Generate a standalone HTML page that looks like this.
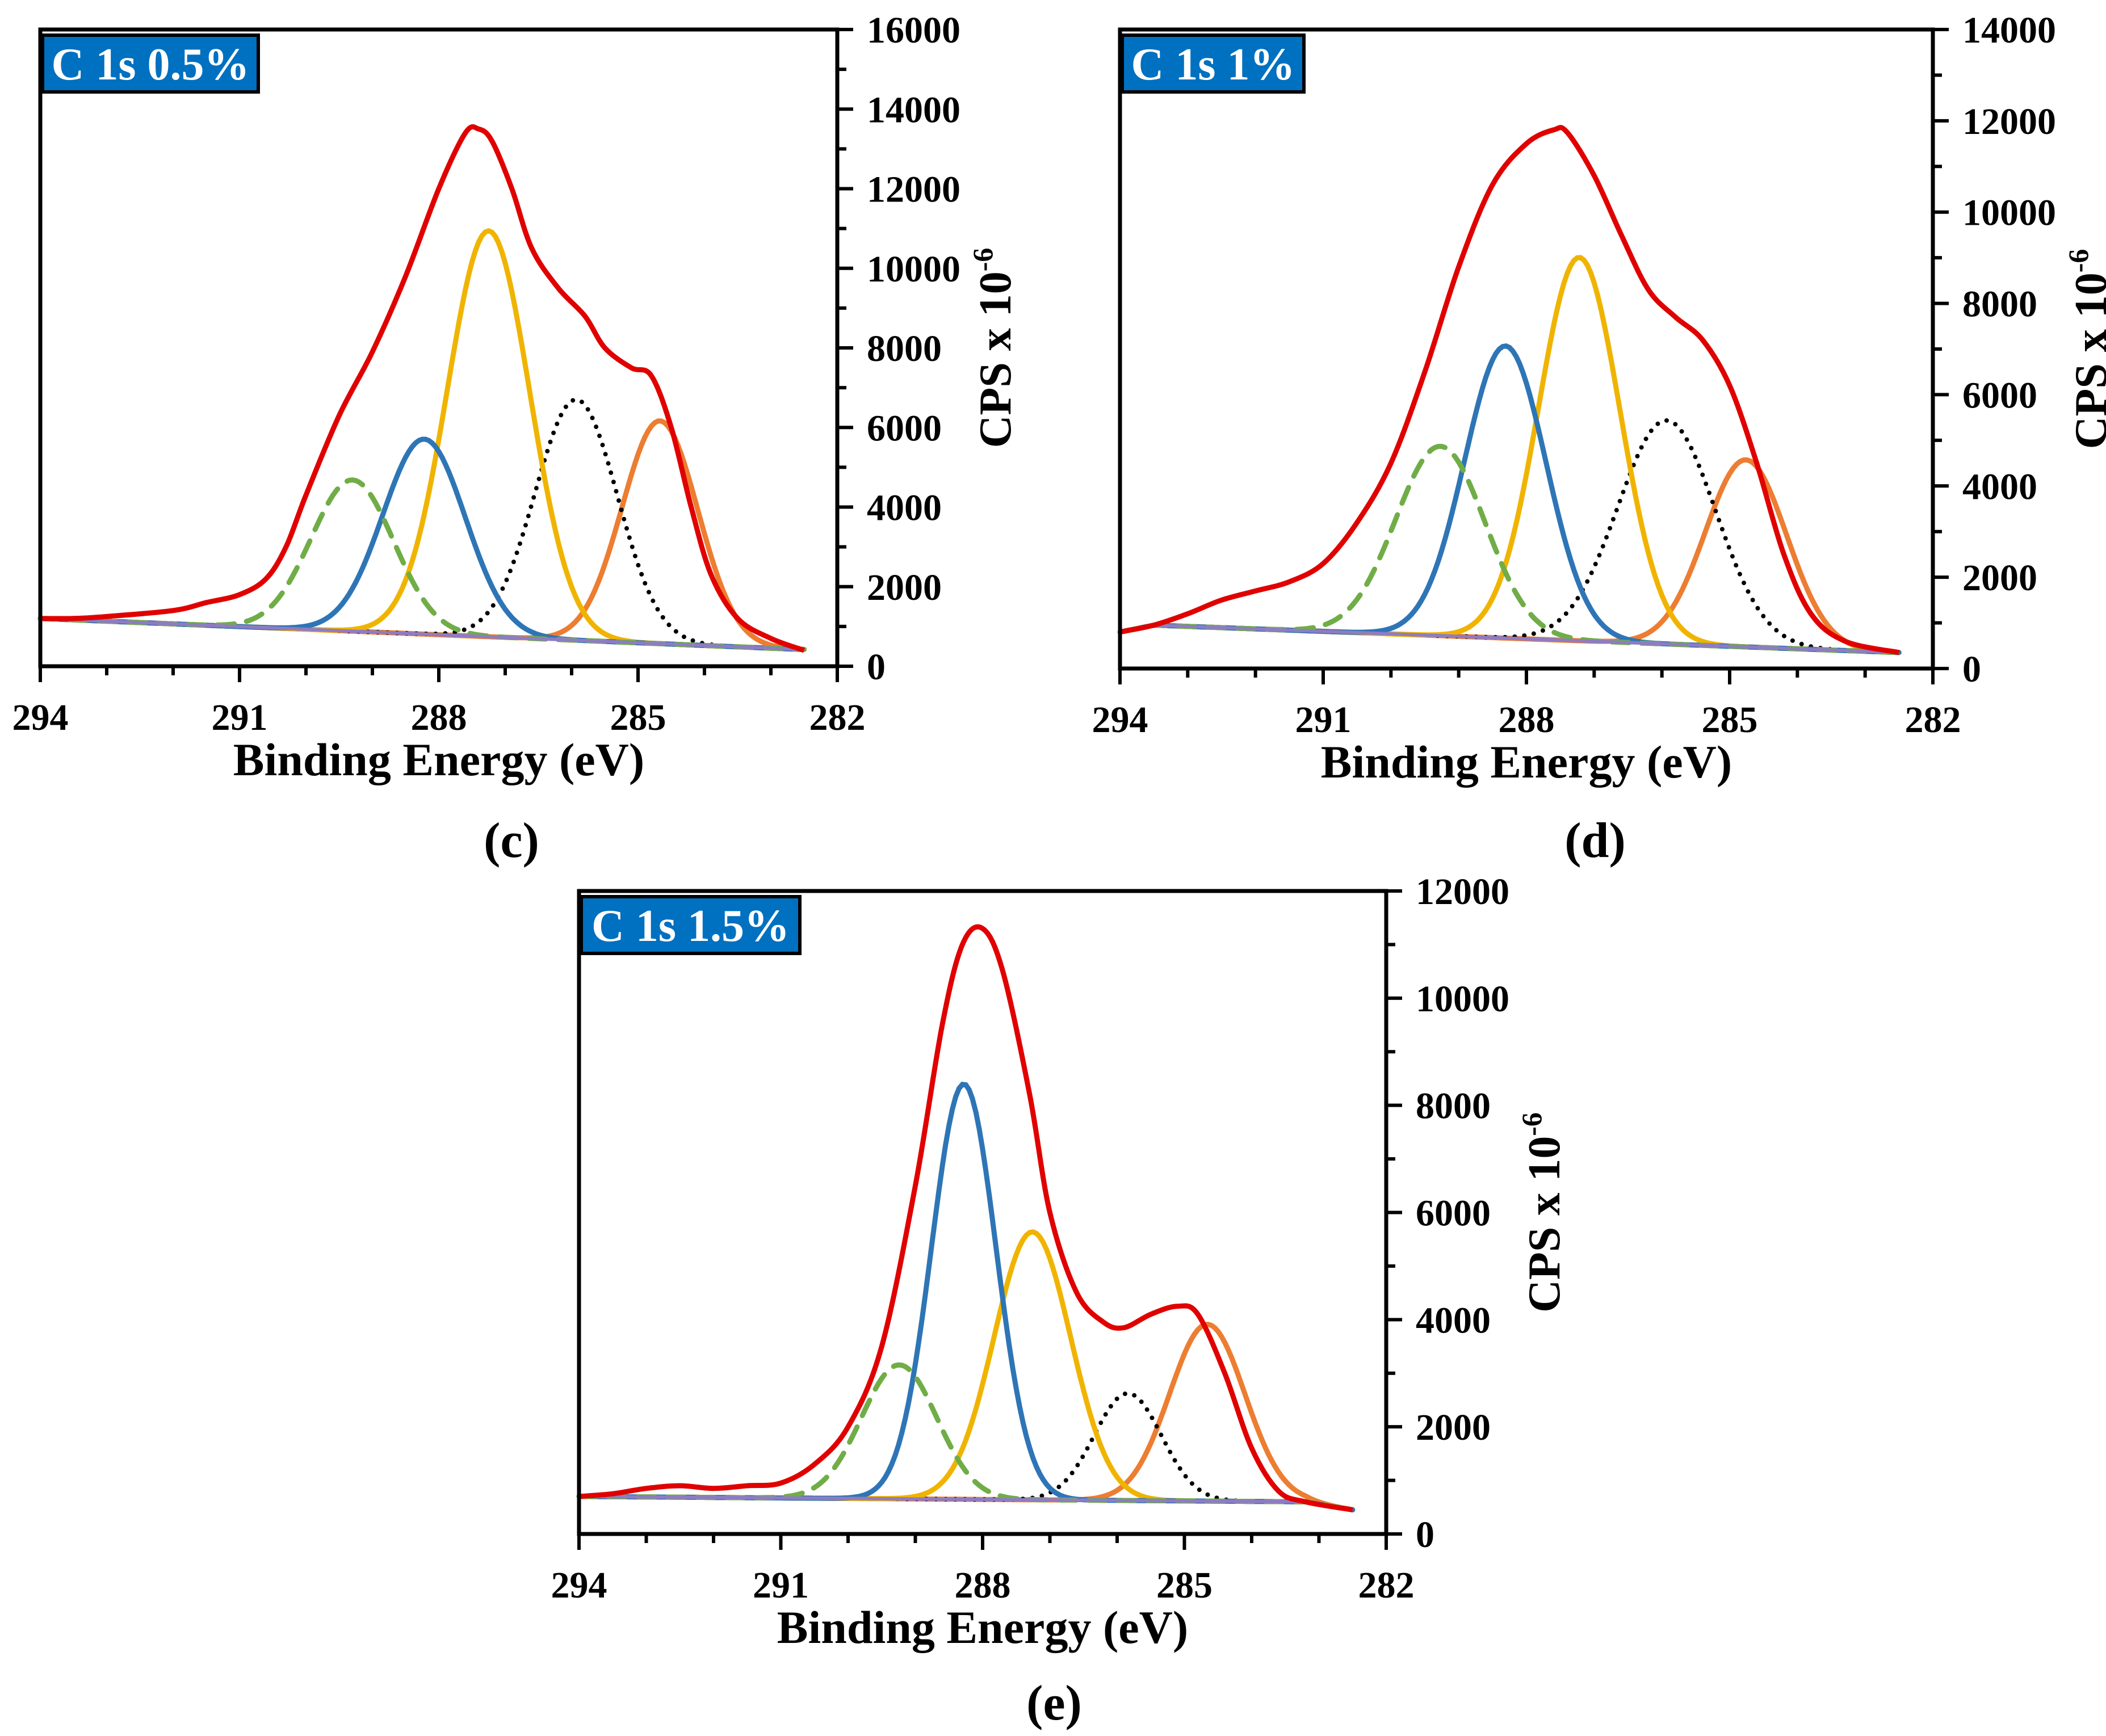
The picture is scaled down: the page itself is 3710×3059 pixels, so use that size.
<!DOCTYPE html>
<html><head><meta charset="utf-8"><style>
html,body{margin:0;padding:0;background:#fff;}
svg{display:block;font-family:"Liberation Serif",serif;}
</style></head><body>
<svg id="fig" width="3710" height="3059" viewBox="0 0 3710 3059" xmlns="http://www.w3.org/2000/svg"></svg>
<script>
// ---- Panel c data ----
const cEnvX=[294,293.5,293,292,291.5,291,290.6,290.3,290,289.5,289,288.5,288,287.6,287.4,287.2,286.9,286.6,286.2,285.8,285.5,285.1,284.8,284.5,284.2,283.9,283.5,283,282.5];
const cEnvY=[1200,1200,1250,1400,1600,1800,2200,3000,4300,6300,7900,9800,12000,13400,13500,13200,12000,10500,9500,8800,8000,7500,7300,6000,4000,2300,1200,700,400];
const cBgX=[294,282.5];
const cBgY=[1200,420];
const cCenters=[284.67,285.93,287.25,288.22,289.3];
const cHeights=[5600,6050,10200,4900,3800];
const cSigmas=[0.57,0.62,0.62,0.62,0.62];
// ---- Panel d data ----
const dEnvX=[294,293.5,293,292.5,292,291.5,291,290.5,290,289.5,289,288.5,288,287.6,287.4,287,286.6,286.2,285.8,285.4,285,284.6,284.2,283.8,283.3,282.5];
const dEnvY=[800,950,1200,1500,1700,1900,2300,3200,4500,6500,8800,10600,11500,11800,11750,10800,9500,8300,7700,7200,6200,4500,2500,1200,600,350];
const dBgX=[294,293.5,282.5];
const dBgY=[800,950,350];
const dCenters=[284.76,285.93,287.22,288.31,289.27];
const dHeights=[4100,4900,8400,6400,4150];
const dSigmas=[0.6,0.72,0.6,0.6,0.66];
// ---- Panel e data ----
const eEnvX=[294,293.5,293,292.5,292,291.5,291,290.5,290,289.5,289,288.6,288.3,288,287.7,287.3,287,286.6,286.2,285.9,285.5,285.1,284.8,284.4,284,283.6,283.2,282.5];
const eEnvY=[700,750,850,900,850,900,950,1300,2000,3500,6500,9500,11000,11300,10500,8200,6000,4500,3950,3850,4100,4250,4100,3000,1600,800,600,450];
const eBgX=[294,283.2,282.5];
const eBgY=[700,600,450];
const eCenters=[284.66,285.84,287.26,288.28,289.24];
const eHeights=[3300,2000,5000,7750,2500];
const eSigmas=[0.56,0.5,0.57,0.48,0.56];
const xTicks=[294,291,288,285,282];

const NS="http://www.w3.org/2000/svg";
const svg=document.getElementById('fig');
function mk(tag,attrs,parent){const e=document.createElementNS(NS,tag);for(const k in attrs)e.setAttribute(k,attrs[k]);(parent||svg).appendChild(e);return e;}
function bgAt(bx,by,x){for(let i=0;i<bx.length-1;i++){if(x<=bx[i]&&x>=bx[i+1]){const t=(bx[i]-x)/(bx[i]-bx[i+1]);return by[i]+t*(by[i+1]-by[i]);}}return by[by.length-1];}
function smooth(pts){let d='M'+pts[0][0].toFixed(1)+','+pts[0][1].toFixed(1);for(let i=0;i<pts.length-1;i++){const p0=pts[Math.max(0,i-1)],p1=pts[i],p2=pts[i+1],p3=pts[Math.min(pts.length-1,i+2)];const c1x=p1[0]+(p2[0]-p0[0])/6,c1y=p1[1]+(p2[1]-p0[1])/6,c2x=p2[0]-(p3[0]-p1[0])/6,c2y=p2[1]-(p3[1]-p1[1])/6;d+=`C${c1x.toFixed(1)},${c1y.toFixed(1)} ${c2x.toFixed(1)},${c2y.toFixed(1)} ${p2[0].toFixed(1)},${p2[1].toFixed(1)}`;}return d;}

function panel(o){
  const g=mk('g',{});
  
  
  const L=o.L,R=o.R,T=o.T,B=o.B;
  const sx=v=>L+(294-v)/12*(R-L);
  const sy=v=>B-v/o.ymax*(B-T);
  const xEnd=282.5;
  const colors=['#ED7D31','#000','#F0B400','#2E75B6','#70AD47'];
  const names=['peak-c-c','peak-c-oh','peak-c-o','peak-c-eq-o','peak-o-c-eq-o'];
  for(let k=0;k<5;k++){
    const pts=[];
    for(let x=294;x>=xEnd-0.001;x-=0.05){const y=bgAt(o.bx,o.by,x)+o.h[k]*Math.exp(-Math.pow(x-o.c[k],2)/(2*o.s[k]*o.s[k]));pts.push([sx(x),sy(y)]);}
    const p=mk('path',{d:'M'+pts.map(q=>q[0].toFixed(1)+','+q[1].toFixed(1)).join('L'),fill:'none',stroke:colors[k],'stroke-width':k==1?8:9,'stroke-linecap':'round','stroke-dasharray':k==1?'0 17':(k==4?'30 22':'none')},g);
    
    
  }
  const bgPts=o.bx.map((x,i)=>[sx(x),sy(o.by[i])]);
  const bl=mk('path',{d:'M'+bgPts.map(q=>q.join(',')).join('L'),fill:'none',stroke:'#8E7CC3','stroke-width':6},g);
  
  
  const env=mk('path',{d:smooth(o.ex.map((x,i)=>[sx(x),sy(o.ey[i])])),fill:'none',stroke:'#E00000','stroke-width':9,'stroke-linejoin':'round'},g);
  
  
  const fr=mk('rect',{x:L,y:T,width:R-L,height:B-T,fill:'none',stroke:'#000','stroke-width':7},g);
  
  
  for(let v=294;v>=282;v--){const major=(v%3===0);const t=mk('line',{x1:sx(v),x2:sx(v),y1:B,y2:B+(major?28:16),stroke:'#000','stroke-width':6},g);}
  xTicks.forEach(v=>{const t=mk('text',{x:sx(v),y:B+112,'font-size':66,'font-weight':'bold','text-anchor':'middle'},g);t.textContent=v;});
  for(let v=0;v<=o.ymax;v+=1000){const major=(v%2000===0);const t=mk('line',{x1:R,x2:R+(major?28:16),y1:sy(v),y2:sy(v),stroke:'#000','stroke-width':6},g);
    if(major){const tl=mk('text',{x:R+52,y:sy(v)+23,'font-size':66,'font-weight':'bold'},g);tl.textContent=v;}}
  const xt=mk('text',{x:(L+R)/2,y:B+192,'font-size':82,'font-weight':'bold','text-anchor':'middle'},g);
  xt.textContent='Binding Energy (eV)';
  
  
  const yx=R+305,yy=(T+B)/2;
  const yt=mk('text',{x:yx,y:yy,'font-size':80,'font-weight':'bold','text-anchor':'middle',transform:`rotate(-90 ${yx} ${yy})`},g);
  yt.innerHTML='CPS x 10<tspan font-size="50" dy="-32">-6</tspan>';
  
  
  const bw=o.bw;
  const lb=mk('rect',{x:L+4,y:T+10,width:bw,height:100,fill:'#0070C0',stroke:'#000','stroke-width':6},g);
  
  
  const lt=mk('text',{x:L+4+bw/2,y:T+88,'font-size':80,'font-weight':'bold',fill:'#fff','text-anchor':'middle'},g);
  lt.textContent=o.label;
  
  
  const pl=mk('text',{x:o.px,y:o.py,'font-size':88,'font-weight':'bold','text-anchor':'middle'},g);
  pl.textContent=o.pl;
  
  
}
panel({name:'panel-c',L:71,R:1475,T:52,B:1174,ymax:16000,ex:cEnvX,ey:cEnvY,bx:cBgX,by:cBgY,c:cCenters,h:cHeights,s:cSigmas,label:'C 1s 0.5%',bw:380,pl:'(c)',px:901,py:1510});
panel({name:'panel-d',L:1973,R:3405,T:52,B:1178,ymax:14000,ex:dEnvX,ey:dEnvY,bx:dBgX,by:dBgY,c:dCenters,h:dHeights,s:dSigmas,label:'C 1s 1%',bw:320,pl:'(d)',px:2810,py:1510});
panel({name:'panel-e',L:1020,R:2442,T:1570,B:2703,ymax:12000,ex:eEnvX,ey:eEnvY,bx:eBgX,by:eBgY,c:eCenters,h:eHeights,s:eSigmas,label:'C 1s 1.5%',bw:385,pl:'(e)',px:1857,py:3030});
</script>
</body></html>
